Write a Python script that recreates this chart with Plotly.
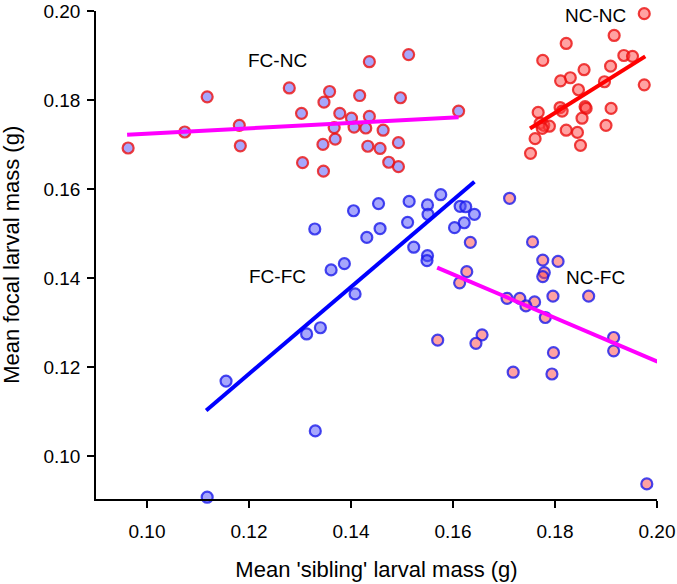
import plotly.graph_objects as go

# focal treatment - sibling treatment groups
fcnc_x = [0.0963, 0.1074, 0.1118, 0.1181, 0.1183, 0.1279, 0.1303, 0.1305, 0.1345, 0.1346,
          0.1347, 0.1358, 0.1369, 0.1367, 0.1378, 0.1401, 0.1406, 0.1417, 0.1429, 0.1436,
          0.1436, 0.1433, 0.1457, 0.1463, 0.1474, 0.1513, 0.1497, 0.1611, 0.1493, 0.1493]
fcnc_y = [0.1692, 0.1728, 0.1807, 0.1743, 0.1697, 0.1827, 0.1770, 0.1659, 0.1700, 0.1640,
          0.1795, 0.1819, 0.1712, 0.1738, 0.1770, 0.1759, 0.1739, 0.1810, 0.1737, 0.1886,
          0.1763, 0.1696, 0.1691, 0.1732, 0.1660, 0.1902, 0.1805, 0.1775, 0.1704, 0.1650]

ncnc_x = [0.1975, 0.1916, 0.1822, 0.1776, 0.1935, 0.1952, 0.1909, 0.1857, 0.1830, 0.1811,
          0.1897, 0.1975, 0.1846, 0.1767, 0.1810, 0.1814, 0.1859, 0.1861, 0.1910, 0.1853,
          0.1771, 0.1778, 0.1789, 0.1775, 0.1900, 0.1822, 0.1844, 0.1761, 0.1850, 0.1752]
ncnc_y = [0.1994, 0.1945, 0.1927, 0.1889, 0.1900, 0.1898, 0.1876, 0.1868, 0.1850, 0.1843,
          0.1841, 0.1834, 0.1823, 0.1772, 0.1783, 0.1775, 0.1785, 0.1781, 0.1781, 0.1759,
          0.1748, 0.1743, 0.1741, 0.1736, 0.1743, 0.1732, 0.1727, 0.1713, 0.1698, 0.1680]

fcfc_x = [0.1454, 0.1405, 0.1329, 0.1457, 0.1431, 0.1387, 0.1361, 0.1408, 0.1340, 0.1313,
          0.1155, 0.1330, 0.1118, 0.1514, 0.1550, 0.1576, 0.1551, 0.1614, 0.1625, 0.1642,
          0.1622, 0.1603, 0.1511, 0.1523, 0.1550, 0.1549]
fcfc_y = [0.1567, 0.1551, 0.1510, 0.1511, 0.1491, 0.1432, 0.1418, 0.1364, 0.1288, 0.1274,
          0.1168, 0.1056, 0.0907, 0.1572, 0.1564, 0.1587, 0.1543, 0.1561, 0.1560, 0.1543,
          0.1524, 0.1513, 0.1525, 0.1469, 0.1450, 0.1439]

ncfc_x = [0.1711, 0.1634, 0.1756, 0.1776, 0.1806, 0.1779, 0.1776, 0.1627, 0.1613, 0.1706,
          0.1731, 0.1760, 0.1743, 0.1796, 0.1866, 0.1781, 0.1915, 0.1915, 0.1570, 0.1657,
          0.1645, 0.1797, 0.1718, 0.1794, 0.1980]
ncfc_y = [0.1579, 0.1480, 0.1481, 0.1440, 0.1437, 0.1412, 0.1403, 0.1414, 0.1389, 0.1354,
          0.1354, 0.1346, 0.1337, 0.1359, 0.1359, 0.1311, 0.1266, 0.1236, 0.1260, 0.1272,
          0.1253, 0.1232, 0.1188, 0.1184, 0.0937]

# fitted lines (end points)
fit_fcnc_x, fit_fcnc_y = [0.0961, 0.1611], [0.1722, 0.1761]
fit_ncnc_x, fit_ncnc_y = [0.1751, 0.1977], [0.1736, 0.1898]
fit_fcfc_x, fit_fcfc_y = [0.1116, 0.1642], [0.1102, 0.1616]
fit_ncfc_x, fit_ncfc_y = [0.1569, 0.2001], [0.1423, 0.1212]

blue_fill = "rgba(80,80,250,0.5)"
pink_fill = "rgba(255,70,70,0.5)"
red_edge = "rgba(235,15,15,0.8)"
blue_edge = "rgba(25,25,235,0.8)"

fig = go.Figure()

def pts(x, y, fill, edge):
    fig.add_trace(go.Scatter(x=x, y=y, mode="markers", cliponaxis=False,
                             marker=dict(size=11, color=fill, line=dict(color=edge, width=2.2))))

pts(fcnc_x, fcnc_y, blue_fill, red_edge)
pts(ncnc_x, ncnc_y, pink_fill, red_edge)
pts(fcfc_x, fcfc_y, blue_fill, blue_edge)
pts(ncfc_x, ncfc_y, pink_fill, blue_edge)

for lx, ly, c in [(fit_fcnc_x, fit_fcnc_y, "#ff00ff"), (fit_ncnc_x, fit_ncnc_y, "#ff0000"),
                  (fit_fcfc_x, fit_fcfc_y, "#0000ff"), (fit_ncfc_x, fit_ncfc_y, "#ff00ff")]:
    fig.add_trace(go.Scatter(x=lx, y=ly, mode="lines", cliponaxis=False,
                             line=dict(color=c, width=4)))

for txt, ax, ay in [("FC-NC", 0.1255, 0.1889), ("NC-NC", 0.1879, 0.1990),
                    ("FC-FC", 0.1255, 0.1404), ("NC-FC", 0.1879, 0.1401)]:
    fig.add_annotation(x=ax, y=ay, text=txt, showarrow=False,
                       font=dict(size=19, color="black"))

# y title as a rotated annotation, standoff alone can't push it far enough left
fig.add_annotation(x=-0.152, y=0.5, xref="paper", yref="paper", text="Mean focal larval mass (g)",
                   textangle=-90, showarrow=False, xanchor="center", yanchor="middle",
                   font=dict(size=22, color="black"))

axis_style = dict(showline=True, linecolor="black", linewidth=1.5, ticks="outside",
                  ticklen=7, tickwidth=1.5, tickcolor="black", showgrid=False,
                  zeroline=False, tickformat=".2f", dtick=0.02, automargin=False,
                  tickfont=dict(size=19, color="black"))

fig.update_xaxes(range=[0.09, 0.20], tick0=0.10, ticklabelstandoff=7,
                 title=dict(text="Mean 'sibling' larval mass (g)", font=dict(size=22, color="black"), standoff=21),
                 **axis_style)
fig.update_yaxes(range=[0.0903, 0.20], tick0=0.10, ticklabelstandoff=3, **axis_style)

fig.update_layout(width=677, height=584, showlegend=False,
                  plot_bgcolor="white", paper_bgcolor="white",
                  font=dict(family="Liberation Sans, Arial, sans-serif"),
                  margin=dict(l=96, r=20, t=11, b=85))

# drop the browser's default body margin so the figure sits at the page corner
fig.write_html("out.html", config={"displayModeBar": False},
               post_script="document.body.style.margin='0px';")
